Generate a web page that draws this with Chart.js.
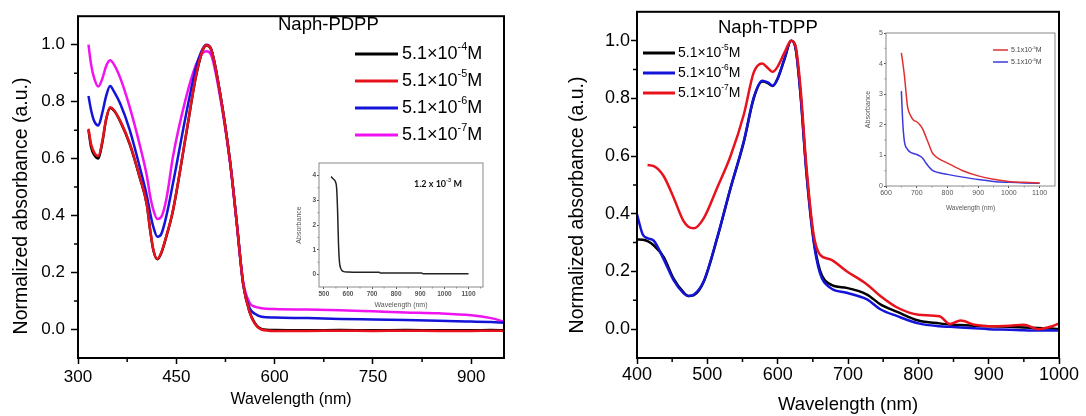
<!DOCTYPE html>
<html>
<head>
<meta charset="utf-8">
<script src="https://cdn.jsdelivr.net/npm/chart.js@4.4.1/dist/chart.umd.min.js"></script>
<style>
  html, body { margin: 0; padding: 0; background: #fff; }
  #wrap { position: relative; width: 1086px; height: 416px; overflow: hidden; }
  canvas { position: absolute; }
</style>
</head>
<body>
<div id="wrap">
  <canvas id="pdpp" width="543" height="416" style="left:0;top:0"></canvas>
  <canvas id="tdpp" width="543" height="416" style="left:543px;top:0"></canvas>
  <canvas id="pdppInset" width="215" height="165" style="left:285px;top:150px"></canvas>
  <canvas id="tdppInset" width="215" height="200" style="left:855px;top:22px"></canvas>
</div>
<script>
// Naph-PDPP, normalized absorbance (left panel)
const pdppWavelength = [316, 320, 325, 331, 337, 343, 349, 355, 365, 379, 394, 405, 410, 415, 421, 427, 435, 445, 465, 480, 490, 496, 503, 516, 532, 542, 552, 562, 570, 580, 600, 650, 700, 750, 800, 850, 900, 930, 950];
const pdpp5e4 = [0.70, 0.64, 0.612, 0.60, 0.655, 0.738, 0.778, 0.768, 0.728, 0.65, 0.535, 0.438, 0.35, 0.278, 0.247, 0.268, 0.328, 0.418, 0.685, 0.888, 0.978, 0.997, 0.984, 0.84, 0.59, 0.38, 0.16, 0.06, 0.022, 0.002, -0.002, -0.003, -0.002, -0.003, -0.002, -0.003, -0.003, -0.002, -0.003];
const pdpp5e5 = [0.705, 0.65, 0.62, 0.609, 0.66, 0.74, 0.78, 0.77, 0.73, 0.653, 0.537, 0.44, 0.352, 0.28, 0.248, 0.27, 0.33, 0.42, 0.687, 0.89, 0.98, 0.998, 0.985, 0.84, 0.59, 0.38, 0.16, 0.06, 0.02, 0.0, -0.005, -0.005, -0.004, -0.005, -0.004, -0.005, -0.005, -0.004, -0.005];
const pdpp5e6 = [0.82, 0.77, 0.73, 0.716, 0.76, 0.82, 0.855, 0.835, 0.79, 0.70, 0.572, 0.47, 0.41, 0.36, 0.326, 0.335, 0.40, 0.514, 0.757, 0.92, 0.985, 1.0, 0.985, 0.84, 0.59, 0.38, 0.16, 0.075, 0.055, 0.045, 0.042, 0.04, 0.037, 0.035, 0.033, 0.031, 0.028, 0.026, 0.024];
const pdpp5e7 = [1.0, 0.93, 0.88, 0.853, 0.88, 0.925, 0.945, 0.93, 0.88, 0.78, 0.65, 0.54, 0.47, 0.42, 0.388, 0.395, 0.46, 0.608, 0.816, 0.93, 0.97, 0.977, 0.965, 0.828, 0.585, 0.377, 0.168, 0.093, 0.08, 0.075, 0.072, 0.07, 0.068, 0.064, 0.06, 0.057, 0.05, 0.04, 0.028];

// Naph-TDPP, normalized absorbance (right panel)
const tdppWavelength = [400, 408, 415, 424, 438, 452, 466, 473, 481, 495, 514, 533, 552, 566, 578, 586, 593, 600, 610, 619, 625, 632, 641, 651, 660, 675, 698, 727, 746, 770, 800, 830, 845, 860, 880, 900, 930, 950, 970, 990, 1000];
const tdpp5e5 = [0.311, 0.31, 0.305, 0.29, 0.25, 0.175, 0.128, 0.115, 0.118, 0.165, 0.315, 0.488, 0.65, 0.80, 0.858, 0.853, 0.843, 0.868, 0.938, 1.0, 0.98, 0.83, 0.545, 0.315, 0.205, 0.155, 0.143, 0.12, 0.086, 0.06, 0.03, 0.02, 0.016, 0.014, 0.012, 0.01, 0.008, 0.006, 0.004, 0.002, 0.0];
const tdpp5e6 = [0.398, 0.329, 0.315, 0.306, 0.242, 0.17, 0.125, 0.115, 0.12, 0.167, 0.317, 0.49, 0.653, 0.803, 0.861, 0.855, 0.844, 0.87, 0.94, 1.0, 0.98, 0.826, 0.537, 0.306, 0.195, 0.143, 0.126, 0.103, 0.069, 0.045, 0.02, 0.01, 0.008, 0.006, 0.003, 0.0, -0.002, -0.004, -0.005, -0.005, -0.005];
const tdpp5e7 = [null, null, 0.569, 0.565, 0.53, 0.456, 0.375, 0.355, 0.35, 0.385, 0.49, 0.60, 0.745, 0.89, 0.921, 0.905, 0.892, 0.91, 0.96, 1.0, 0.985, 0.85, 0.56, 0.33, 0.259, 0.242, 0.201, 0.155, 0.115, 0.075, 0.05, 0.045, 0.018, 0.03, 0.015, 0.01, 0.012, 0.015, 0.0, 0.01, 0.02];

// insets: raw absorbance
const pdppInsetWavelength = [530, 540, 548, 553, 557, 561, 565, 570, 580, 600, 650, 730, 735, 905, 912, 1000, 1100];
const pdppInsetAbs = [3.95, 3.85, 3.75, 3.5, 2.6, 1.2, 0.5, 0.25, 0.13, 0.1, 0.09, 0.09, 0.06, 0.06, 0.03, 0.03, 0.03];
const tdppInsetWavelength = [650, 655, 660, 670, 680, 690, 700, 710, 720, 730, 740, 750, 760, 770, 800, 850, 900, 950, 1000, 1050, 1100];
const tdppInset5e5 = [4.35, 4.0, 3.6, 2.6, 2.3, 2.15, 2.1, 2.0, 1.85, 1.6, 1.35, 1.1, 0.98, 0.9, 0.75, 0.5, 0.33, 0.22, 0.15, 0.12, 0.1];
const tdppInset5e6 = [3.1, 2.0, 1.45, 1.2, 1.1, 1.06, 1.03, 0.98, 0.9, 0.75, 0.62, 0.52, 0.47, 0.44, 0.38, 0.29, 0.21, 0.15, 0.12, 0.1, 0.09];

// tick labels
const normTicks = [0, 0.2, 0.4, 0.6, 0.8, 1.0];
const normMinor = [0.1, 0.3, 0.5, 0.7, 0.9];
const pdppXTicks = [300, 450, 600, 750, 900];
const pdppXMinor = [375, 525, 675, 825];
const tdppXTicks = [400, 500, 600, 700, 800, 900, 1000];
const tdppXMinor = [450, 550, 650, 750, 850, 950];
const pdppInsetXTicks = [500, 600, 700, 800, 900, 1000, 1100];
const pdppInsetXMinor = [550, 650, 750, 850, 950, 1050, 1150];
const pdppInsetYTicks = [0, 1, 2, 3, 4];
const pdppInsetYMinor = [0.5, 1.5, 2.5, 3.5];
const tdppInsetXTicks = [600, 700, 800, 900, 1000, 1100];
const tdppInsetXMinor = [650, 750, 850, 950, 1050];
const tdppInsetYTicks = [0, 1, 2, 3, 4, 5];
const tdppInsetYMinor = [0.5, 1.5, 2.5, 3.5, 4.5];

const SANS = '"Liberation Sans", Arial, sans-serif';
Chart.defaults.font.family = SANS;
Chart.defaults.color = '#000';
Chart.defaults.animation = false;

const RED = '#e8121c', BLUE = '#1414d8', MAGENTA = '#f012f0', BLACK = '#000';

function series(label, xs, ys, color, width, order) {
  return {
    label, order,
    data: xs.map((x, i) => ({ x, y: ys[i] })),
    borderColor: color, backgroundColor: color,
    borderWidth: width, pointRadius: 0,
    cubicInterpolationMode: 'monotone'
  };
}

// draw "5.1×10^{-4}M" style text with raised superscripts
function drawRich(ctx, str, x, y, size, weight, family, color) {
  const parts = str.split(/\^\{([^}]*)\}/);
  ctx.fillStyle = color;
  ctx.textAlign = 'left';
  ctx.textBaseline = 'middle';
  parts.forEach((p, i) => {
    const sup = i % 2 === 1;
    const s = sup ? size * 0.6 : size;
    ctx.font = `${weight} ${s}px ${family}`;
    ctx.fillText(p, x, sup ? y - size * 0.36 : y);
    x += ctx.measureText(p).width;
  });
}

function decor(cfg) {
  return {
    id: 'decor',
    afterDraw(chart) {
      const { ctx, chartArea: a, scales: { x, y } } = chart;
      ctx.save();
      ctx.strokeStyle = cfg.frame;
      ctx.lineWidth = cfg.frameWidth;
      ctx.strokeRect(a.left, a.top, a.right - a.left, a.bottom - a.top);

      // minor ticks
      ctx.lineWidth = cfg.minorWidth;
      ctx.beginPath();
      cfg.xMinor.forEach(v => {
        const p = x.getPixelForValue(v);
        if (p > a.right + 1) return;
        ctx.moveTo(p, a.bottom); ctx.lineTo(p, a.bottom + cfg.minorLen);
      });
      cfg.yMinor.forEach(v => {
        const p = y.getPixelForValue(v);
        ctx.moveTo(a.left, p); ctx.lineTo(a.left - cfg.minorLen, p);
      });
      ctx.stroke();

      if (cfg.yTitle) {
        const t = cfg.yTitle;
        ctx.save();
        ctx.translate(t.x, t.y);
        ctx.rotate(-Math.PI / 2);
        ctx.font = `${t.size}px ${SANS}`;
        ctx.fillStyle = '#000';
        ctx.textAlign = 'center';
        ctx.textBaseline = 'middle';
        ctx.fillText(t.text, 0, 0);
        ctx.restore();
      }

      if (cfg.title) {
        const t = cfg.title;
        drawRich(ctx, t.text, t.x, t.y, t.size, t.weight || 'normal', t.family || SANS, t.color || '#000');
      }

      if (cfg.legend) {
        const l = cfg.legend;
        chart.data.datasets.forEach((ds, i) => {
          const ry = l.y + i * l.dy;
          ctx.strokeStyle = ds.borderColor;
          ctx.lineWidth = l.lineWidth;
          ctx.beginPath();
          ctx.moveTo(l.x0, ry); ctx.lineTo(l.x1, ry);
          ctx.stroke();
          drawRich(ctx, ds.label, l.tx, ry, l.size, 'normal', SANS, l.color || '#000');
        });
      }
      ctx.restore();
    }
  };
}

function xAxis(o) {
  return {
    type: 'linear', position: 'bottom', min: o.min, max: o.max,
    afterBuildTicks: s => { s.ticks = o.ticks.map(v => ({ value: v })); },
    afterFit: s => { s.height = o.height; },
    ticks: { font: { size: o.font, weight: o.weight || 'normal' }, color: o.color || '#000', padding: o.pad, maxRotation: 0, autoSkip: false, callback: v => String(v) },
    grid: { drawOnChartArea: false, tickLength: o.tick, tickWidth: o.tickWidth, tickColor: o.color || '#000' },
    border: { display: false },
    title: { display: true, text: o.title, font: { size: o.titleFont }, color: o.color || '#000', padding: { top: 0, bottom: o.titlePad } }
  };
}

function yAxis(o) {
  return {
    type: 'linear', position: 'left', min: o.min, max: o.max,
    afterBuildTicks: s => { s.ticks = o.ticks.map(v => ({ value: v })); },
    afterFit: s => { s.width = o.width; },
    ticks: { font: { size: o.font, weight: o.weight || 'normal' }, color: o.color || '#000', padding: o.pad, autoSkip: false, callback: o.fmt },
    grid: { drawOnChartArea: false, tickLength: o.tick, tickWidth: o.tickWidth, tickColor: o.color || '#000' },
    border: { display: false },
    title: o.title ? { display: true, text: o.title, font: { size: o.titleFont }, color: o.color || '#000', padding: { top: o.titlePad, bottom: 0 } } : { display: false }
  };
}

function makeChart(id, datasets, x, y, padding, cfg) {
  return new Chart(document.getElementById(id), {
    type: 'line',
    data: { datasets },
    options: {
      responsive: false,
      animation: false,
      layout: { padding },
      plugins: { legend: { display: false }, tooltip: { enabled: false } },
      scales: { x, y }
    },
    plugins: [decor(cfg)]
  });
}

// left panel: Naph-PDPP
makeChart('pdpp', [
    series('5.1×10^{-4}M', pdppWavelength, pdpp5e4, BLACK, 2.5, 3),
    series('5.1×10^{-5}M', pdppWavelength, pdpp5e5, RED, 2.5, 0),
    series('5.1×10^{-6}M', pdppWavelength, pdpp5e6, BLUE, 2.5, 1),
    series('5.1×10^{-7}M', pdppWavelength, pdpp5e7, MAGENTA, 2.5, 2)
  ],
  xAxis({ min: 300, max: 950, ticks: pdppXTicks, height: 58, font: 17, pad: 3, tick: 6, tickWidth: 1.5, title: 'Wavelength (nm)', titleFont: 16, titlePad: 7 }),
  yAxis({ min: -0.1, max: 1.1, ticks: normTicks, width: 78, font: 17, pad: 6, tick: 7, tickWidth: 1.5, fmt: v => v.toFixed(1) }),
  { top: 10, right: 39, left: 0, bottom: 0 },
  {
    frame: '#000', frameWidth: 2, minorWidth: 1.5, minorLen: 4,
    xMinor: pdppXMinor, yMinor: normMinor,
    yTitle: { text: 'Normalized absorbance (a.u.)', x: 22, y: 206, size: 19.5 },
    title: { text: 'Naph-PDPP', x: 278, y: 25, size: 18.5 },
    legend: { x0: 355, x1: 398, tx: 402, y: 54, dy: 27, lineWidth: 3, size: 18 }
  });

// right panel: Naph-TDPP
makeChart('tdpp', [
    series('5.1×10^{-5}M', tdppWavelength, tdpp5e5, BLACK, 2.5, 2),
    series('5.1×10^{-6}M', tdppWavelength, tdpp5e6, BLUE, 2.5, 1),
    series('5.1×10^{-7}M', tdppWavelength, tdpp5e7, RED, 2.5, 0)
  ],
  xAxis({ min: 400, max: 1000, ticks: tdppXTicks, height: 58, font: 18, pad: 0, tick: 6, tickWidth: 1.5, title: 'Wavelength (nm)', titleFont: 18.5, titlePad: 0 }),
  yAxis({ min: -0.1, max: 1.1, ticks: normTicks, width: 94, font: 18, pad: 1, tick: 6, tickWidth: 1.5, fmt: v => v.toFixed(1) }),
  { top: 10, right: 27, left: 0, bottom: 0 },
  {
    frame: '#000', frameWidth: 2, minorWidth: 1.5, minorLen: 4,
    xMinor: tdppXMinor, yMinor: normMinor,
    yTitle: { text: 'Normalized absorbance (a.u.)', x: 35, y: 205, size: 19.5 },
    title: { text: 'Naph-TDPP', x: 175, y: 28, size: 18.5 },
    legend: { x0: 100, x1: 132, tx: 135, y: 53, dy: 20, lineWidth: 3, size: 14 }
  });

// left inset: 1.2 x 10^-3 M
makeChart('pdppInset', [
    series('1.2 x 10^{-3} M', pdppInsetWavelength, pdppInsetAbs, '#222', 1.5, 0)
  ],
  xAxis({ min: 480, max: 1160, ticks: pdppInsetXTicks, height: 28, font: 6.5, weight: 'bold', color: '#555', pad: 1, tick: 2, tickWidth: 1, title: 'Wavelength (nm)', titleFont: 7, titlePad: 6 }),
  yAxis({ min: -0.5, max: 4.5, ticks: pdppInsetYTicks, width: 34, font: 6.5, weight: 'bold', color: '#555', pad: 1, tick: 2, tickWidth: 1, fmt: v => String(v), title: 'Absorbance', titleFont: 7, titlePad: 10 }),
  { top: 13, right: 17, left: 0, bottom: 0 },
  {
    frame: '#8a8a8a', frameWidth: 1, minorWidth: 1, minorLen: 1.5,
    xMinor: pdppInsetXMinor, yMinor: pdppInsetYMinor,
    title: { text: '1.2 x 10^{-3} M', x: 129, y: 34, size: 9, weight: 'bold', family: 'Lato, sans-serif', color: '#111' }
  });

// right inset
makeChart('tdppInset', [
    series('5.1x10^{-5}M', tdppInsetWavelength, tdppInset5e5, '#e03030', 1.5, 0),
    series('5.1x10^{-6}M', tdppInsetWavelength, tdppInset5e6, '#3a3ae0', 1.5, 1)
  ],
  xAxis({ min: 600, max: 1150, ticks: tdppInsetXTicks, height: 36, font: 7, color: '#555', pad: 1, tick: 2, tickWidth: 1, title: 'Wavelength (nm)', titleFont: 6.5, titlePad: 10 }),
  yAxis({ min: 0, max: 5, ticks: tdppInsetYTicks, width: 31, font: 7, color: '#555', pad: 1, tick: 2, tickWidth: 1, fmt: v => String(v), title: 'Absorbance', titleFont: 7, titlePad: 9 }),
  { top: 11, right: 15, left: 0, bottom: 0 },
  {
    frame: '#8a8a8a', frameWidth: 1, minorWidth: 1, minorLen: 1.5,
    xMinor: tdppInsetXMinor, yMinor: tdppInsetYMinor,
    legend: { x0: 138, x1: 153, tx: 156, y: 28, dy: 12, lineWidth: 1.5, size: 7, color: '#444' }
  });
</script>
</body>
</html>
